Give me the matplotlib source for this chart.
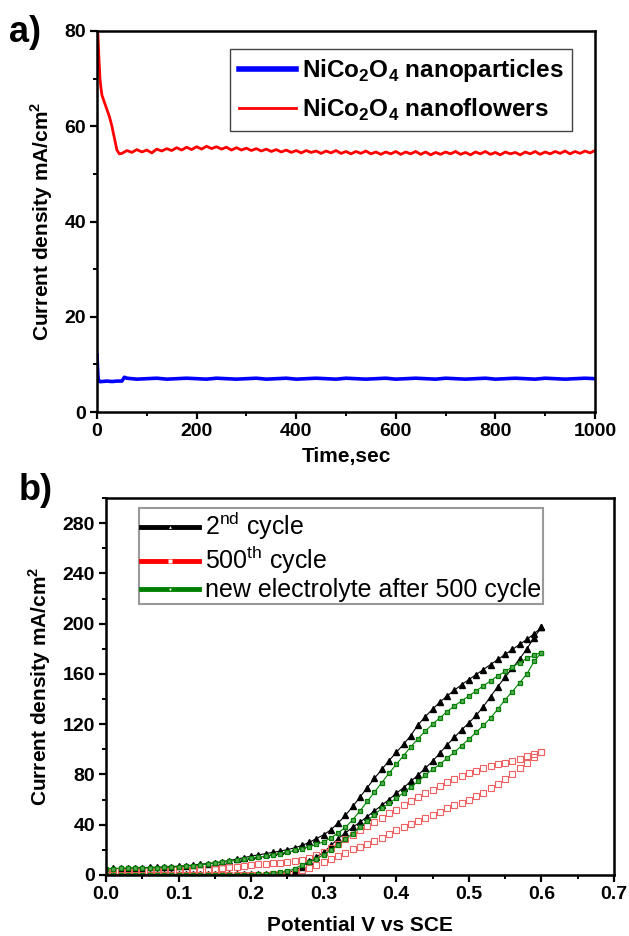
import numpy as np
import matplotlib
matplotlib.use("Agg")
import matplotlib.pyplot as plt
from matplotlib.lines import Line2D
from matplotlib.ticker import MultipleLocator

plt.rcParams['font.family'] = ['Liberation Sans', 'DejaVu Sans']
plt.rcParams['mathtext.fontset'] = 'custom'
plt.rcParams['mathtext.rm'] = 'Liberation Sans'
plt.rcParams['mathtext.bf'] = 'Liberation Sans:bold'

# ---- panel a: chronoamperometry ----
t_red_start = [0, 2, 4, 6, 8, 10, 15, 20, 25, 30, 35, 40, 45]
j_red_start = [82, 79, 74, 70, 68, 66.5, 65, 63.5, 62, 60, 57.5, 55, 54.2]
t_red = np.arange(50, 1001, 10)
j_red = [54.3, 54.9, 54.5, 55.1, 54.6, 55.0, 54.4, 55.2, 54.8, 55.3,
         54.9, 55.5, 55.0, 55.6, 55.1, 55.7, 55.2, 55.8, 55.3, 55.7,
         55.2, 55.6, 55.0, 55.5, 55.0, 55.4, 54.9, 55.3, 54.8, 55.2,
         54.7, 55.1, 54.6, 55.0, 54.5, 54.9, 54.4, 54.9, 54.5, 54.8,
         54.3, 54.8, 54.4, 54.9, 54.3, 54.7, 54.2, 54.7, 54.3, 54.8,
         54.2, 54.6, 54.1, 54.6, 54.2, 54.7, 54.1, 54.6, 54.2, 54.7,
         54.1, 54.6, 54.0, 54.5, 54.1, 54.6, 54.2, 54.7, 54.1, 54.5,
         54.0, 54.6, 54.2, 54.7, 54.1, 54.5, 54.0, 54.6, 54.2, 54.5,
         54.0, 54.6, 54.2, 54.7, 54.1, 54.6, 54.2, 54.7, 54.3, 54.8,
         54.2, 54.7, 54.3, 54.8, 54.4, 54.9]

t_blue_start = [0, 1, 2, 3, 5, 10, 20, 30, 40, 50, 55]
j_blue_start = [12, 9.5, 7.5, 6.6, 6.4, 6.4, 6.5, 6.4, 6.5, 6.5, 7.3]
t_blue = np.arange(60, 1001, 20)
j_blue = [7.1, 6.9, 7.0, 7.1, 6.9, 7.0, 7.1, 7.0, 6.9, 7.1,
          7.0, 6.9, 7.0, 7.1, 6.9, 7.0, 7.1, 6.9, 7.0, 7.1,
          7.0, 6.9, 7.1, 7.0, 6.9, 7.0, 7.1, 6.9, 7.0, 7.1,
          7.0, 6.9, 7.1, 7.0, 6.9, 7.0, 7.1, 6.9, 7.0, 7.1,
          7.0, 6.9, 7.1, 7.0, 6.9, 7.0, 7.1, 7.0]

# ---- panel b: CV loops (V grid 0.00 .. 0.60 step 0.01) ----
V = np.round(np.arange(0, 0.601, 0.01), 2)
black_up = [5.0, 5.2, 5.3, 5.5, 5.6, 5.8, 6.0, 6.2, 6.4, 6.7,
            7.0, 7.4, 7.9, 8.5, 9.1, 9.8, 10.6, 11.5, 12.6, 13.8,
            15.0, 16.0, 17.0, 18.0, 19.0, 20.2, 21.6, 23.5, 26.0, 29.0,
            32.0, 36.0, 41.5, 47.5, 54.5, 62.0, 69.5, 77.0, 84.0, 91.0,
            97.5, 104, 111, 119.5, 126, 132, 137.5, 142.5, 147, 151.5,
            155.5, 159.5, 163.5, 167.5, 171.5, 175.5, 179.5, 183.5, 187.5, 192, 197]
black_down = [0.5, 0.5, 0.5, 0.5, 0.5, 0.5, 0.5, 0.5, 0.5, 0.5,
              0.5, 0.5, 0.5, 0.5, 0.5, 0.5, 0.5, 0.5, 0.5, 0.5,
              0.5, 0.5, 0.5, 0.8, 1.3, 2.0, 3.5, 6.5, 11, 14.5,
              18, 23.5, 29, 33.5, 38, 42, 46.5, 51, 55.5, 60,
              65, 69.5, 74.5, 79.5, 85, 90.5, 97, 103.5, 109.5, 115.5,
              121, 127, 134, 142, 150, 157.5, 164.5, 172, 180, 189, 197]
green_up = [5.0, 5.1, 5.2, 5.3, 5.4, 5.5, 5.6, 5.8, 6.0, 6.2,
            6.5, 6.9, 7.4, 8.0, 8.6, 9.3, 10.0, 10.8, 11.6, 12.4,
            13.2, 14.0, 15.0, 16.0, 17.0, 18.2, 19.5, 21.0, 22.6, 24.3,
            26.5, 29.5, 33.5, 38, 44, 51, 58.5, 66, 73.5, 81,
            88, 95, 102, 108.5, 114.5, 120, 125, 130, 134.5, 138.5,
            142.5, 146.5, 150.5, 154.5, 158.5, 162, 165.5, 169, 172.5, 175, 177]
green_down = [0.3, 0.3, 0.3, 0.3, 0.3, 0.3, 0.3, 0.3, 0.3, 0.3,
              0.3, 0.3, 0.3, 0.3, 0.3, 0.3, 0.3, 0.3, 0.3, 0.3,
              0.3, 0.5, 0.8, 1.2, 2.0, 3.0, 5.0, 8.0, 10.5, 13,
              16, 20, 24, 28.5, 33, 38, 43, 48, 53, 57,
              61, 65.5, 70, 74.5, 79.5, 84, 88, 93, 97.5, 103,
              108, 113.5, 119, 125, 132, 139.5, 146, 153, 160, 170, 177]
red_up = [3.0, 3.0, 3.1, 3.1, 3.2, 3.3, 3.4, 3.5, 3.6, 3.8,
          4.0, 4.2, 4.4, 4.6, 4.8, 5.1, 5.5, 6.0, 6.6, 7.3,
          8.0, 8.5, 9.0, 9.4, 9.8, 10.3, 11.0, 12.0, 13.5, 15.5,
          18.0, 21.5, 25, 28.5, 32, 35.5, 39, 42.5, 45.5, 49,
          52, 55.5, 59, 62, 65, 68, 71, 74, 76.5, 79,
          81, 83, 85, 86.5, 88, 89.5, 91, 92.5, 94.5, 96.5, 98]
red_down = [0.2, 0.2, 0.2, 0.2, 0.2, 0.2, 0.2, 0.2, 0.2, 0.2,
            0.2, 0.2, 0.2, 0.2, 0.2, 0.2, 0.2, 0.2, 0.2, 0.2,
            0.2, 0.2, 0.2, 0.4, 0.7, 1.2, 2.2, 3.8, 5.8, 8,
            10.3, 12.8, 15.3, 17.8, 20.3, 22.6, 24.8, 27.2, 29.6, 32.5,
            35.5, 38, 40.5, 43, 45.5, 48, 50.5, 53, 55.5, 57.5,
            60, 62.5, 65.5, 69, 72.5, 76.5, 80.5, 85, 89.5, 94, 98]


def loop(up, down):
    x = np.concatenate([V, V[::-1]])
    y = np.concatenate([up, down[::-1]])
    return x, y


fig = plt.figure(figsize=(6.29, 9.36), dpi=100)
ax1 = fig.add_axes([0.1542, 0.5598, 0.7917, 0.4071])
ax2 = fig.add_axes([0.1685, 0.0652, 0.8076, 0.4027])

ax1.plot(np.concatenate([t_red_start, t_red]), np.concatenate([j_red_start, j_red]),
         color='#ff0000', lw=2.0)
ax1.plot(np.concatenate([t_blue_start, t_blue]), np.concatenate([j_blue_start, j_blue]),
         color='#0000ff', lw=2.6)
ax1.set_xlim(0, 1000)
ax1.set_ylim(0, 80)
ax1.xaxis.set_major_locator(MultipleLocator(200))
ax1.xaxis.set_minor_locator(MultipleLocator(100))
ax1.yaxis.set_major_locator(MultipleLocator(20))
ax1.yaxis.set_minor_locator(MultipleLocator(10))
ax1.set_xlabel('Time,sec', fontsize=15, fontweight='bold', labelpad=5)
ax1.set_ylabel('Current density mA/cm$^\\mathbf{2}$', fontsize=15, fontweight='bold', labelpad=7)

h1 = [Line2D([], [], color='#0000ff', lw=4),
      Line2D([], [], color='#ff0000', lw=2)]
leg1 = ax1.legend(h1, ['NiCo$_\\mathbf{2}$O$_\\mathbf{4}$ nanoparticles',
                       'NiCo$_\\mathbf{2}$O$_\\mathbf{4}$ nanoflowers'],
                  loc='upper right', bbox_to_anchor=(0.954, 0.953), borderaxespad=0,
                  prop={'size': 17.5, 'weight': 'bold'}, fancybox=False,
                  edgecolor='#444444', handlelength=2.35, handletextpad=0.25,
                  labelspacing=0.5, borderpad=0.35, framealpha=1)
leg1.get_frame().set_linewidth(1.0)

x, y = loop(black_up, black_down)
ax2.plot(x, y, color='black', lw=0.8, marker='^', ms=4.8, mec='black', mfc='black')
x, y = loop(red_up, red_down)
ax2.plot(x, y, color='none', marker='s', ms=4.2, mfc='none', mec='#f06060', mew=0.8)
x, y = loop(green_up, green_down)
ax2.plot(x, y, color='#008000', lw=0.8, marker='s', ms=3.4, mec='#008000', mfc='#5aaa5a', mew=0.9)
ax2.set_xlim(0, 0.7)
ax2.set_ylim(0, 300)
ax2.xaxis.set_minor_locator(MultipleLocator(0.05))
ax2.yaxis.set_minor_locator(MultipleLocator(20))
ax2.set_xticks([0, 0.1, 0.2, 0.3, 0.4, 0.5, 0.6, 0.7])
ax2.set_xticklabels(['0.0', '0.1', '0.2', '0.3', '0.4', '0.5', '0.6', '0.7'])
ax2.set_yticks([0, 40, 80, 120, 160, 200, 240, 280])
ax2.set_xlabel('Potential V vs SCE', fontsize=15, fontweight='bold', labelpad=9)
ax2.set_ylabel('Current density mA/cm$^\\mathbf{2}$', fontsize=15, fontweight='bold', labelpad=7)

h2 = [Line2D([], [], color='black', lw=3.5, marker='^', ms=2, mfc='white', mec='none'),
      Line2D([], [], color='#ff0000', lw=3.5, marker='s', ms=3, mfc='white', mec='none'),
      Line2D([], [], color='#008000', lw=3.5, marker='o', ms=1.5, mfc='white', mec='none')]
leg2 = ax2.legend(h2, ['2$^{\\mathrm{nd}}$ cycle', '500$^{\\mathrm{th}}$ cycle',
                       'new electrolyte after 500 cycle'],
                  loc='upper left', bbox_to_anchor=(0.065, 0.973), borderaxespad=0,
                  prop={'size': 18}, fancybox=False, edgecolor='#999999',
                  handlelength=2.3, handletextpad=0.25, labelspacing=0.08,
                  borderpad=0.08, framealpha=1)
leg2.get_frame().set_linewidth(1.5)

for ax in (ax1, ax2):
    for s in ax.spines.values():
        s.set_linewidth(1.8)
    ax.tick_params(which='major', direction='out', length=5, width=1.6,
                   labelsize=14, pad=3)
    ax.tick_params(which='minor', direction='out', length=3, width=1.4)
    for lab in ax.get_xticklabels() + ax.get_yticklabels():
        lab.set_fontweight('bold')

fig.text(0.014, 0.965, 'a)', fontsize=26, fontweight='bold', va='center', ha='left')
fig.text(0.030, 0.476, 'b)', fontsize=26, fontweight='bold', va='center', ha='left')

fig.savefig('out.png', dpi=100)
